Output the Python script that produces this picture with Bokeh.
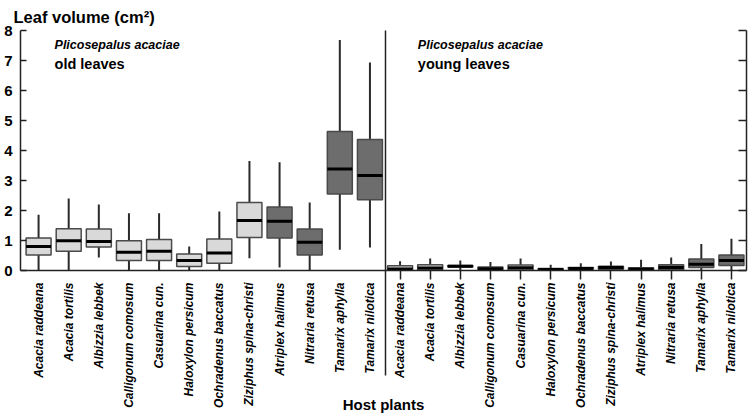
import math
from bokeh.plotting import figure
from bokeh.models import (FixedTicker, LinearAxis, Range1d, ColumnDataSource, Label)
from bokeh.embed import file_html
from bokeh.resources import INLINE

# ---------------- data ----------------
hosts = ["Acacia raddeana", "Acacia tortilis", "Albizzia lebbek",
         "Calligonum comosum", "Casuarina cun.", "Haloxylon persicum",
         "Ochradenus baccatus", "Ziziphus spina-christi", "Atriplex halimus",
         "Nitraria retusa", "Tamarix aphylla", "Tamarix nilotica"]
host_dark = [False] * 8 + [True] * 4

old_low = [0.00, 0.02, 0.43, 0.00, 0.02, 0.00, 0.00, 0.41, 0.10, 0.00, 0.69, 0.77]
old_q1 = [0.52, 0.64, 0.78, 0.33, 0.33, 0.13, 0.24, 1.10, 1.08, 0.52, 2.55, 2.36]
old_med = [0.80, 0.99, 0.97, 0.61, 0.64, 0.33, 0.58, 1.67, 1.64, 0.94, 3.38, 3.17]
old_q3 = [1.08, 1.39, 1.38, 0.99, 1.03, 0.55, 1.05, 2.27, 2.12, 1.38, 4.63, 4.37]
old_high = [1.86, 2.40, 2.20, 1.91, 1.91, 0.80, 1.97, 3.65, 3.61, 2.27, 7.68, 6.93]

young_low = [0.00] * 12
young_q1 = [0.02, 0.02, 0.12, 0.01, 0.02, 0.00, 0.05, 0.04, 0.01, 0.02, 0.10, 0.17]
young_med = [0.05, 0.08, 0.14, 0.06, 0.09, 0.03, 0.07, 0.10, 0.04, 0.10, 0.21, 0.33]
young_q3 = [0.16, 0.19, 0.17, 0.12, 0.18, 0.07, 0.10, 0.14, 0.09, 0.19, 0.38, 0.52]
young_high = [0.31, 0.40, 0.33, 0.28, 0.40, 0.19, 0.24, 0.30, 0.36, 0.43, 0.88, 1.06]

y_ticks = [0, 1, 2, 3, 4, 5, 6, 7, 8]

# ---------------- build ----------------
LIGHT = "#d9d9d9"
DARK = "#6d6d6d"
EDGE = "#4a4a4a"
AX = "#222222"
BOXW = 0.83
FONT = "Liberation Sans"

n = len(hosts)
xs = list(range(2 * n))
src = ColumnDataSource(dict(
    x=xs,
    x0=[x - BOXW / 2 for x in xs],
    x1=[x + BOXW / 2 for x in xs],
    low=old_low + young_low,
    q1=old_q1 + young_q1,
    med=old_med + young_med,
    q3=old_q3 + young_q3,
    high=old_high + young_high,
    fill=[DARK if d else LIGHT for d in host_dark] * 2,
))

p = figure(frame_width=726, frame_height=240, x_range=Range1d(-0.6, 2 * n - 0.5),
           y_range=Range1d(0, 8), output_backend="svg", toolbar_location=None,
           min_border_left=20, min_border_right=3, min_border_top=0,
           min_border_bottom=0)
p.outline_line_color = None
p.xgrid.visible = False
p.ygrid.visible = False

p.title.text = "Leaf volume (cm\u00b2)"
p.title.text_font = FONT
p.title.text_font_size = "16.5px"
p.title.text_font_style = "bold"
p.title.text_color = "black"
p.title.align = "left"
p.title.offset = -7
p.title.standoff = 10

# whiskers
p.segment(x0="x", y0="low", x1="x", y1="q1", source=src, line_color="#2a2a2a", line_width=2)
p.segment(x0="x", y0="q3", x1="x", y1="high", source=src, line_color="#2a2a2a", line_width=2)
# boxes
p.vbar(x="x", width=BOXW, bottom="q1", top="q3", source=src, fill_color="fill",
       line_color=EDGE, line_width=1.5)
# medians
p.segment(x0="x0", y0="med", x1="x1", y1="med", source=src, line_color="black", line_width=3)

# bottom axis (configure before adding any other x axis)
xa = p.below[0]
xa.ticker = FixedTicker(ticks=xs, minor_ticks=xs[n:])
xa.major_label_overrides = {x: hosts[x % n] for x in xs}
xa.major_label_orientation = math.pi / 2
xa.major_label_text_font = FONT
xa.major_label_text_font_style = "bold italic"
xa.major_label_text_font_size = "12px"
xa.major_label_text_color = "black"
xa.major_label_standoff = 3
xa.major_tick_in = 0
xa.major_tick_out = 0
xa.minor_tick_in = 0
xa.minor_tick_out = 9
xa.minor_tick_line_width = 1.5
xa.minor_tick_line_color = AX
xa.axis_line_width = 1.5
xa.axis_line_color = AX
xa.axis_label = "Host plants"
xa.axis_label_text_font = FONT
xa.axis_label_text_font_style = "bold"
xa.axis_label_text_font_size = "15px"
xa.axis_label_text_color = "black"
xa.axis_label_standoff = -15

# left axis
ya = p.left[0]
ya.ticker = FixedTicker(ticks=y_ticks)
ya.major_label_text_font = FONT
ya.major_label_text_font_style = "bold"
ya.major_label_text_font_size = "15px"
ya.major_label_text_color = "black"
ya.major_tick_in = 6
ya.major_tick_out = 0
ya.minor_tick_line_color = None
ya.major_label_standoff = 8
ya.axis_line_width = 1.5
ya.axis_line_color = AX
ya.major_tick_line_width = 1.5
ya.major_tick_line_color = AX

# right axis (ticks only)
ra = LinearAxis(ticker=FixedTicker(ticks=y_ticks), major_label_text_font_size="1px",
                major_label_text_color=None, major_label_standoff=0,
                major_tick_in=8, major_tick_out=0,
                minor_tick_line_color=None, axis_line_width=1.5,
                axis_line_color=AX, major_tick_line_width=1.5,
                major_tick_line_color=AX)
p.add_layout(ra, "right")

# divider between old and young leaves (a single long inward tick from the top)
div = LinearAxis(ticker=FixedTicker(ticks=[n - 0.5]), major_label_text_font_size="1px",
                 major_label_text_color=None, major_label_standoff=0,
                 major_tick_in=345, major_tick_out=0, minor_tick_line_color=None,
                 axis_line_color=None, major_tick_line_width=1.5,
                 major_tick_line_color=AX)
p.add_layout(div, "above")

# panel annotations
for xpos, word in [(0.53, "old leaves"), (n + 0.59, "young leaves")]:
    p.add_layout(Label(x=xpos, y=7.52, text="Plicosepalus acaciae", text_font=FONT,
                       text_font_style="bold italic", text_font_size="12.5px",
                       text_baseline="alphabetic", text_color="black"))
    p.add_layout(Label(x=xpos, y=6.88, text=word, text_font=FONT,
                       text_font_style="bold", text_font_size="14.5px",
                       text_baseline="alphabetic", text_color="black"))

open("out.html", "w").write(file_html(p, INLINE))
